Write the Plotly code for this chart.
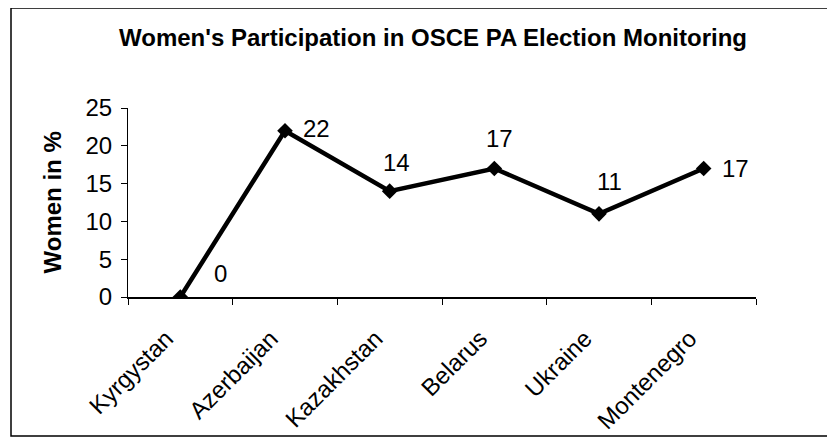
import plotly.graph_objects as go

countries = ["Kyrgystan", "Azerbaijan", "Kazakhstan", "Belarus", "Ukraine", "Montenegro"]
women_pct = [0, 22, 14, 17, 11, 17]
y_ticks = [0, 5, 10, 15, 20, 25]

title_text = "Women's Participation in OSCE PA Election Monitoring"
y_title = "Women in %"

# label offsets (pixels) to mimic manual label placement
label_dx = [40, 31, 7, 5, 10, 32]
label_dy = [24, 2, 29, 30, 32, 0]

FONT = "Liberation Sans, Arial, sans-serif"

# page body has an 8px margin, so the figure is laid out 8px smaller
W, H = 827, 429
L, T, R, B = 120, 100, 79, 140
PW, PH = W - L - R, H - T - B

fig = go.Figure()
fig.add_trace(go.Scatter(
    x=countries, y=women_pct, mode="lines+markers",
    line=dict(color="black", width=4.5),
    marker=dict(symbol="diamond", size=12, color="black"),
    hoverinfo="skip", showlegend=False,
))

for c, v, dx, dy in zip(countries, women_pct, label_dx, label_dy):
    fig.add_annotation(x=c, y=v, text=str(v), showarrow=False,
                       xshift=dx, yshift=dy,
                       font=dict(family=FONT, size=24, color="black"))

fig.add_annotation(xref="paper", yref="paper", x=-76 / PW, y=0.5,
                   text="<b>" + y_title + "</b>", textangle=-90, showarrow=False,
                   font=dict(family=FONT, size=24, color="black"),
                   xanchor="center", yanchor="middle")

fig.update_layout(
    width=W, height=H,
    margin=dict(l=L, r=R, t=T, b=B, autoexpand=False),
    paper_bgcolor="white", plot_bgcolor="white",
    title=dict(text="<b>" + title_text + "</b>", x=425 / W, xanchor="center",
               y=1 - 30 / H, yanchor="middle", yref="container",
               font=dict(family=FONT, size=24, color="black")),
    font=dict(family=FONT, color="black"),
    xaxis=dict(
        type="category", range=[-0.5, 5.5], automargin=False,
        showline=True, linecolor="black", linewidth=2,
        showgrid=False, zeroline=False,
        ticks="outside", tickson="boundaries", ticklen=6, tickwidth=1, tickcolor="black",
        tickangle=-45, tickfont=dict(family=FONT, size=24, color="black"),
        ticklabelstandoff=16, ticklabelshift=-14,
    ),
    yaxis=dict(
        range=[0, 25], tickvals=y_ticks, automargin=False,
        showline=True, linecolor="black", linewidth=1,
        showgrid=False, zeroline=False,
        ticks="outside", ticklen=6, tickwidth=1, tickcolor="black",
        tickfont=dict(family=FONT, size=24, color="black"),
        ticklabelstandoff=4,
    ),
    shapes=[dict(type="rect", xref="paper", yref="paper",
                 x0=(3 - L) / PW, x1=(824 - L) / PW,
                 y0=(T + PH - (H - 1)) / PH, y1=(T + PH - 0) / PH,
                 line=dict(color="black", width=1.5), fillcolor="rgba(0,0,0,0)",
                 layer="below")],
)

fig.write_html("out.html")
